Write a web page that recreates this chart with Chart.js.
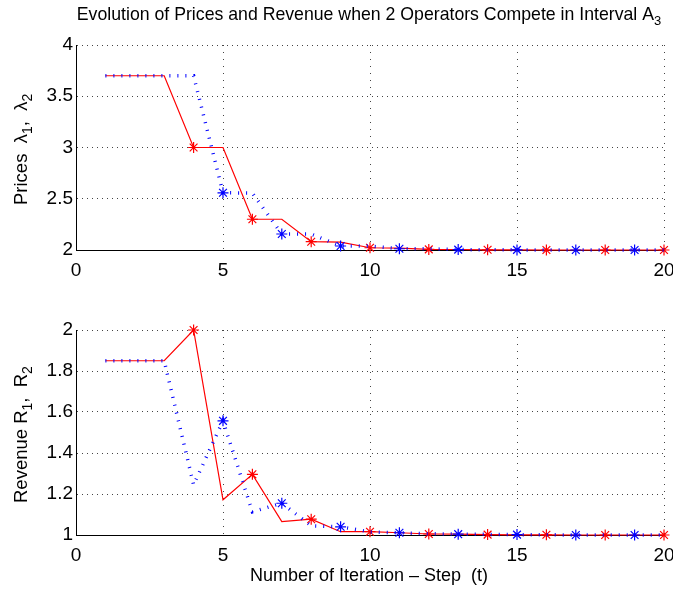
<!DOCTYPE html>
<html><head><meta charset="utf-8">
<script src="https://cdn.jsdelivr.net/npm/chart.js@4.4.0/dist/chart.umd.min.js"></script>
<style>
html,body{margin:0;padding:0;background:#fff;}
#wrap{position:relative;width:673px;height:590px;overflow:hidden;background:#fff;}
canvas{position:absolute;left:0;}
#c1{top:0;} #c2{top:290px;}
</style></head><body>
<div id="wrap">
<canvas id="c1" width="673" height="290"></canvas>
<canvas id="c2" width="673" height="300"></canvas>
</div>
<script>
// ---- data ----
const steps = [1,2,3,4,5,6,7,8,9,10,11,12,13,14,15,16,17,18,19,20];
const priceOp1 = [3.7,3.7,3.7,3.0,3.0,2.3,2.3,2.081,2.077,2.022,2.018,2.006,2.005,2.002,2.001,2.0,2.0,2.0,2.0,2.0];
const priceOp2 = [3.7,3.7,3.7,3.7,2.558,2.556,2.156,2.155,2.039,2.038,2.012,2.011,2.004,2.003,2.001,2.001,2.0,2.0,2.0,2.0];
const revenueOp1 = [1.85,1.85,1.85,2.0,1.172,1.296,1.065,1.077,1.016,1.016,1.011,1.005,1.004,1.002,1.001,1.001,1.0,1.0,1.0,1.0];
const revenueOp2 = [1.85,1.85,1.85,1.245,1.557,1.113,1.155,1.045,1.04,1.015,1.011,1.006,1.004,1.003,1.002,1.001,1.0,1.0,1.0,1.0];
const xTicks = {min:0, max:20, step:5};
const priceTicks = {min:2, max:4, step:0.5};
const revenueTicks = {min:1, max:2, step:0.2};
const titleParts = [["Evolution of Prices and Revenue when 2 Operators Compete in Interval A",0],["3",1]];
const priceLabel = [["Prices  \u03bb",0],["1",1],[",  \u03bb",0],["2",1]];
const revenueLabel = [["Revenue R",0],["1",1],[",  R",0],["2",1]];
const xLabel = [["Number of Iteration \u2013 Step  (t)",0]];

const FONT = '"Liberation Sans", Arial, Helvetica, sans-serif';

function drawRich(ctx, it) {
  ctx.save();
  ctx.translate(it.x, it.y);
  if (it.rotate) ctx.rotate(-Math.PI/2);
  ctx.fillStyle = '#000';
  ctx.textBaseline = 'alphabetic';
  ctx.textAlign = 'left';
  const ws = it.parts.map(([t,sub]) => { ctx.font = (sub ? it.sub : it.size) + 'px ' + FONT; return ctx.measureText(t).width; });
  const total = ws.reduce((a,b)=>a+b,0);
  let cx = it.align === 'center' ? -total/2 : 0;
  it.parts.forEach(([t,sub],i) => {
    ctx.font = (sub ? it.sub : it.size) + 'px ' + FONT;
    ctx.fillText(t, cx, sub ? it.drop : 0);
    cx += ws[i];
  });
  ctx.restore();
}
function textPlugin(items) {
  return { id:'richText', afterDraw(chart){ items.forEach(it => drawRich(chart.ctx, it)); } };
}
const fmt = v => String(Math.round(v * 1000) / 1000);

function makeChart(id, redVals, blueVals, yt, padTop, xAxisH, items) {
  const toPts = vals => steps.map((s,i)=>({x:s, y:vals[i]}));
  const isRedMark = c => { const s = steps[c.dataIndex]; return s !== undefined && s >= 4 && s % 2 === 0; };
  const isBlueMark = c => { const s = steps[c.dataIndex]; return s !== undefined && s >= 5 && s % 2 === 1; };
  return new Chart(document.getElementById(id), {
    type:'line',
    data:{datasets:[
      {label:'Operator 2', data:toPts(blueVals), borderColor:'#0000ff', borderWidth:3.5, borderDash:[1,7],
       borderCapStyle:'butt', tension:0, fill:false, clip:false,
       pointStyle:'star', pointRadius:c => isBlueMark(c) ? 5.5 : 0, pointBorderColor:'#0000ff',
       pointBackgroundColor:'#0000ff', pointBorderWidth:1.2, pointHoverRadius:0},
      {label:'Operator 1', data:toPts(redVals), borderColor:'#ff0000', borderWidth:1.2, tension:0, fill:false, clip:false,
       pointStyle:'star', pointRadius:c => isRedMark(c) ? 5.5 : 0, pointBorderColor:'#ff0000',
       pointBackgroundColor:'#ff0000', pointBorderWidth:1.2, pointHoverRadius:0}
    ]},
    options:{
      responsive:false, animation:false, devicePixelRatio:1, events:[],
      layout:{padding:{top:padTop, right:9, left:0, bottom:0}},
      plugins:{legend:{display:false}, tooltip:{enabled:false}, title:{display:false}},
      scales:{
        x:{type:'linear', min:xTicks.min, max:xTicks.max,
           ticks:{stepSize:xTicks.step, color:'#000', font:{family:FONT, size:19}, padding:9, maxRotation:0, callback:fmt},
           grid:{color:'#444', lineWidth:1, drawTicks:false},
           border:{display:true, color:'#000', width:1, dash:[1,6]},
           afterFit(s){ s.height = xAxisH; s.paddingLeft = 0; s.paddingRight = 0; }},
        y:{type:'linear', min:yt.min, max:yt.max,
           ticks:{stepSize:yt.step, color:'#000', font:{family:FONT, size:19}, padding:3, callback:fmt},
           grid:{color:'#444', lineWidth:1, drawTicks:false},
           border:{display:true, color:'#000', width:1, dash:[1,4]},
           afterFit(s){ s.width = 76; }}
      }
    },
    plugins:[textPlugin(items)]
  });
}

makeChart('c1', priceOp1, priceOp2, priceTicks, 45, 40, [
  {parts:titleParts, x:369, y:20, size:17.7, sub:13, drop:5, align:'center'},
  {parts:priceLabel, x:27, y:205, size:18.5, sub:14, drop:5, rotate:true, align:'left'}
]);
makeChart('c2', revenueOp1, revenueOp2, revenueTicks, 40, 55, [
  {parts:revenueLabel, x:27, y:213, size:18.5, sub:14, drop:5, rotate:true, align:'left'},
  {parts:xLabel, x:369, y:291, size:18, sub:13, drop:5, align:'center'}
]);
</script>
</body></html>
